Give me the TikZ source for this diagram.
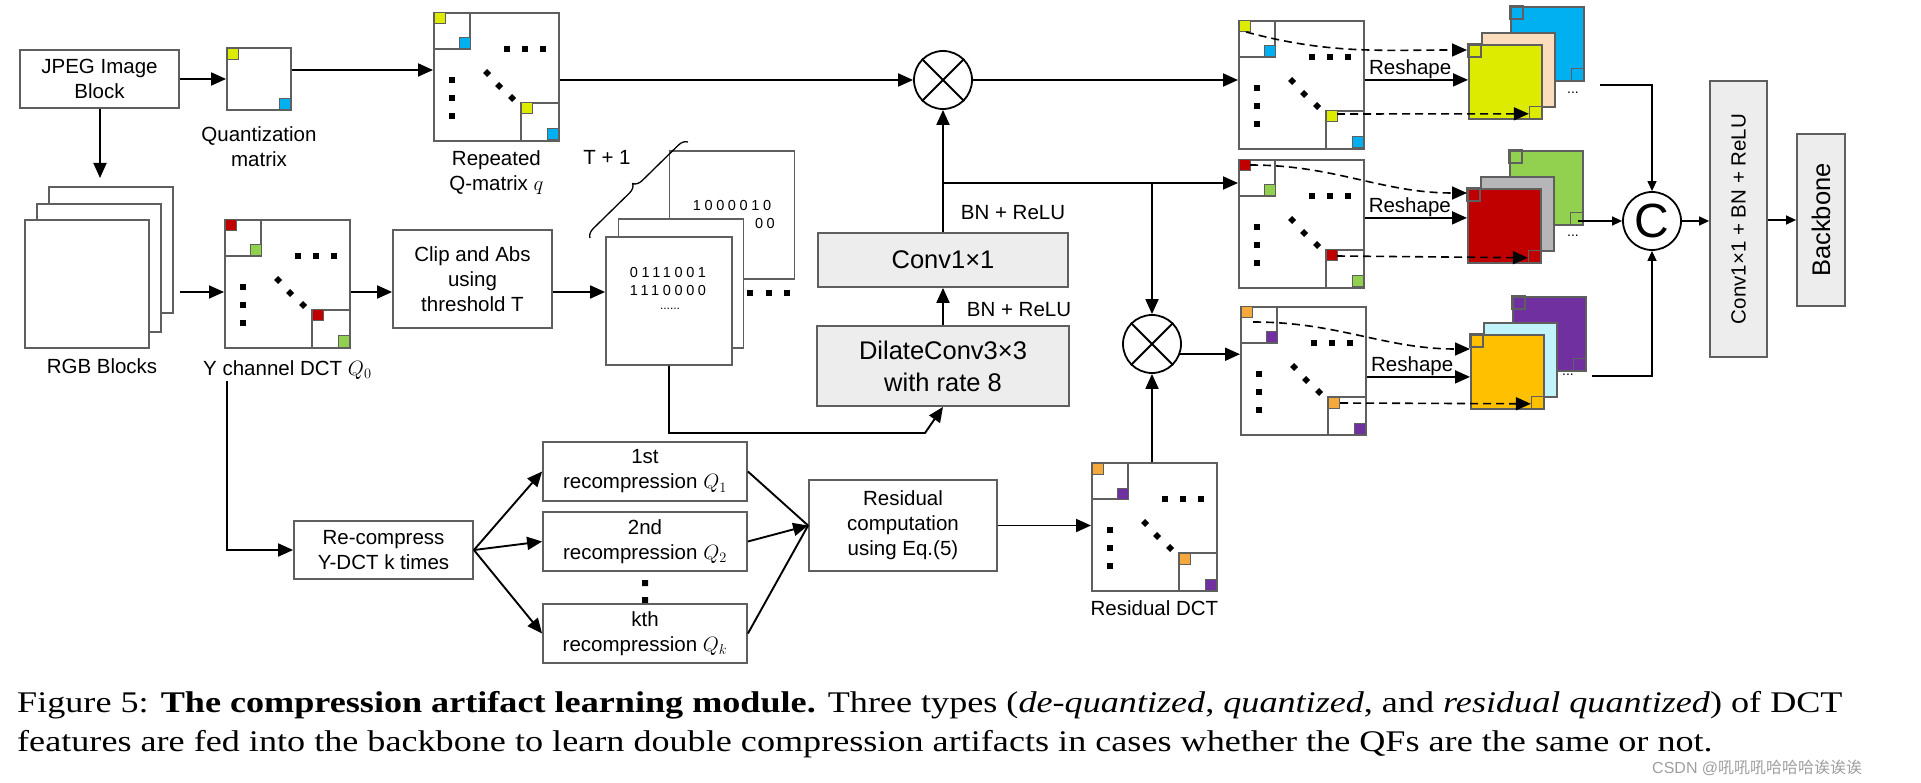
\documentclass[tikz,border=0pt]{standalone}
\usepackage{fontspec}
\setmainfont[FakeStretch=1.205]{Liberation Serif}
\newfontfamily\arial{Liberation Sans}
\newfontfamily\bitsfont[LetterSpace=25]{Liberation Sans}
\newfontfamily\cjk{Noto Sans CJK SC}
\usepackage{xcolor}
\usepackage{graphicx}
\usepackage{tikz}
\usetikzlibrary{arrows.meta, positioning, decorations.pathreplacing}
\definecolor{linegray}{RGB}{95,95,95}
\definecolor{boxgray}{RGB}{237,237,237}
\definecolor{qyellow}{RGB}{220,235,0}
\definecolor{qblue}{RGB}{0,176,240}
\definecolor{qpeach}{RGB}{251,220,188}
\definecolor{yred}{RGB}{192,0,0}
\definecolor{ygreen}{RGB}{146,208,80}
\definecolor{ygray}{RGB}{182,182,184}
\definecolor{rorange}{RGB}{245,168,60}
\definecolor{rpurple}{RGB}{112,48,160}
\definecolor{rcyan}{RGB}{192,244,250}
\definecolor{rgold}{RGB}{255,192,0}
\newcommand{\lbl}{\arial\fontsize{20.5}{25}\selectfont}
\newcommand{\biglbl}{\arial\fontsize{25.5}{32}\selectfont}
\tikzset{
  box/.style={rectangle, draw=linegray, line width=1.8pt, fill=white, align=center, font=\lbl, inner sep=0pt},
  graybox/.style={box, fill=boxgray, font=\biglbl},
  sheet/.style={box, minimum width=125pt, minimum height=128pt},
  fsheet/.style={box, minimum width=73pt, minimum height=74pt},
  txt/.style={font=\lbl, align=center, inner sep=0pt},
  bits/.style={font=\bitsfont\fontsize{14.5}{17}\selectfont, inner sep=0pt},
  mult/.style={circle, draw, line width=1.8pt, minimum size=58pt, inner sep=0pt},
  arrow/.style={-{Stealth[inset=0pt, length=15pt, width=13pt]}, line width=1.9pt},
  smallarrow/.style={-{Stealth[inset=0pt, length=10pt, width=9pt]}, line width=1.4pt},
  dasharrow/.style={arrow, line width=1.6pt, dash pattern=on 8pt off 5pt},
}
\newcommand{\dctmat}[5]{%
  \node[sheet, anchor=north west] (#1) at (#2,#3) {};
  \begin{scope}[shift={(#2,#3)}]
    \draw[linegray, line width=1.5pt] (0,37) -| (37,0) (88,128) |- (125,91);
    \draw[linegray, line width=1pt, fill=#4] (1,1) rectangle (12,12) (88,91) rectangle (99,102);
    \draw[linegray, line width=1pt, fill=#5] (26,26) rectangle (37,37) (114,117) rectangle (125,128);
    \foreach \dx in {74,92,110} \fill (\dx-3,34) rectangle +(6,6);
    \foreach \dy in {68,86,104} \fill (16,\dy-3) rectangle +(6,6);
    \foreach \px/\py in {54/61,66/74,79/86} \fill (\px-4,\py) -- (\px,\py-4) -- (\px+4,\py) -- (\px,\py+4) -- cycle;
  \end{scope}
}
\newcommand{\featstack}[6]{%
  \node[fsheet, fill=#4, anchor=north west] (#1b) at (#2+42,#3-38) {};
  \draw[linegray, line width=1.3pt] (#1b.north west) rectangle +(13,13) (#1b.south east) rectangle +(-13,-13);
  \node[fsheet, fill=#5, anchor=north west] (#1m) at (#2+13,#3-12) {};
  \node[fsheet, fill=#6, anchor=north west] (#1) at (#2,#3) {};
  \draw[linegray, line width=1.3pt] (#1.north west) rectangle +(13,13) (#1.south east) rectangle +(-13,-13);
}

\begin{document}
\begin{tikzpicture}[x=1pt, y=-1pt]
    \useasboundingbox (0,0) rectangle (1921,783);
    \node[box, minimum width=159pt, minimum height=58pt] (jpeg) at (99.5,79) {JPEG Image\\Block};
    \node[box, minimum width=64pt, minimum height=62pt] (quant) at (259,79) {};
    \draw[linegray, line width=1pt, fill=qyellow] ([shift={(1,1)}]quant.north west) rectangle +(11,11);
    \draw[linegray, line width=1pt, fill=qblue] ([shift={(-1,-1)}]quant.south east) rectangle +(-11,-11);
    \node[txt, below=16pt of quant] (quantlab) {Quantization\\matrix};
    \dctmat{repq}{433}{12}{qyellow}{qblue}
    \node[txt, below=9pt of repq] (repqlab) {Repeated\\Q-matrix $q$};

    \node[box, minimum width=124pt, minimum height=126pt] (rgbb) at (111,250) {};
    \node[box, minimum width=124pt, minimum height=128pt] (rgbm) at (99,268) {};
    \node[box, minimum width=124pt, minimum height=128pt] (rgbf) at (87,284) {};
    \node[txt, anchor=north] (rgblab) at (102,358) {RGB Blocks};
    \dctmat{ydct}{224}{219}{yred}{ygreen}
    \node[txt, below=12pt of ydct] (ydctlab) {Y channel DCT $Q_0$};
    \node[box, minimum width=159pt, minimum height=98pt] (clip) at (472.5,279) {Clip and Abs\\using\\threshold T};

    \node[box, minimum width=125pt, minimum height=128pt] (binb) at (732,215) {};
    \node[bits] (bitsa) at (732,206) {1000010};
    \node[box, minimum width=125pt, minimum height=129pt] (binm) at (681,283.5) {};
    \node[bits, anchor=east] (bitsb) at (775,224) {00};
    \node[box, minimum width=126pt, minimum height=128pt] (binf) at (669,301) {};
    \node[bits] (bitsc) at (668,273) {0111001};
    \node[bits] (bitsd) at (668,291) {1110000};
    \node[font=\arial\fontsize{12}{12}\selectfont, inner sep=0pt] (bitse) at (670,309) {......};
    \foreach \dx in {750,769,787} \fill (\dx-3,290) rectangle +(6,6);
    \coordinate (brlow) at (590,238);
    \coordinate (brhigh) at (688,142);
    \draw[decorate, decoration={brace, amplitude=9pt}, line width=1.3pt] (brlow) -- (brhigh);
    \node[txt] (tplus) at (607,157) {T + 1};

    \node[mult] (mulq) at (943,80) {};
    \draw[line width=1.8pt] (mulq.north west) -- (mulq.south east) (mulq.north east) -- (mulq.south west);
    \node[graybox, minimum width=250pt, minimum height=54pt] (conv) at (943,260) {Conv1×1};
    \node[graybox, minimum width=252pt, minimum height=80pt] (dilate) at (943,366) {DilateConv3×3\\with rate 8};
    \node[txt] (bnone) at (1013,213) {BN + ReLU};
    \node[txt] (bntwo) at (1019,310) {BN + ReLU};
    \node[mult] (mulr) at (1152,344) {};
    \draw[line width=1.8pt] (mulr.north west) -- (mulr.south east) (mulr.north east) -- (mulr.south west);

    \node[box, minimum width=179pt, minimum height=58pt] (recomp) at (383.5,550) {Re-compress\\Y-DCT k times};
    \node[box, minimum width=204pt, minimum height=59pt] (recone) at (645,471.5) {1st\\recompression $Q_1$};
    \node[box, minimum width=204pt, minimum height=59pt] (rectwo) at (645,541.5) {2nd\\recompression $Q_2$};
    \node[box, minimum width=204pt, minimum height=59pt] (reck) at (645,633.5) {kth\\recompression $Q_k$};
    \fill (642,580) rectangle +(6,6) (642,597) rectangle +(6,6);
    \node[box, minimum width=188pt, minimum height=91pt] (resid) at (903,525.5) {Residual\\computation\\using Eq.(5)};
    \dctmat{rdct}{1091}{462}{rorange}{rpurple}
    \node[txt, below=9pt of rdct] (rdctlab) {Residual DCT};

    \dctmat{matq}{1238}{20}{qyellow}{qblue}
    \dctmat{maty}{1238}{159}{yred}{ygreen}
    \dctmat{matr}{1240}{306}{rorange}{rpurple}
    \node[font=\arial\fontsize{14}{14}\selectfont, inner sep=0pt] (dotsqa) at (1565,78) {...};
    \node[font=\arial\fontsize{14}{14}\selectfont, inner sep=0pt] (dotsya) at (1565,218) {...};
    \featstack{stq}{1468}{44}{qblue}{qpeach}{qyellow}
    \featstack{sty}{1467}{188}{ygreen}{ygray}{yred}
    \featstack{str}{1470}{334}{rpurple}{rcyan}{rgold}
    \node[font=\arial\fontsize{14}{14}\selectfont, inner sep=0pt] (dotsqb) at (1573,93) {...};
    \node[font=\arial\fontsize{14}{14}\selectfont, inner sep=0pt] (dotsyb) at (1573,236) {...};
    \node[font=\arial\fontsize{14}{14}\selectfont, inner sep=0pt] (dotsrb) at (1568,375) {...};
    \node[mult, font=\arial\fontsize{48}{48}\selectfont] (cat) at (1652,221) {C};
    \node[graybox, font=\lbl, minimum width=57pt, minimum height=276pt] (convbn) at (1738.5,219) {\rotatebox{90}{Conv1×1 + BN + ReLU}};
    \node[graybox, minimum width=48pt, minimum height=172pt] (backbone) at (1821,220) {\rotatebox{90}{Backbone}};

    \draw[arrow] (jpeg) -- (quant);
    \coordinate (qout) at ([yshift=9pt]quant.east);
    \draw[arrow] (qout) -- (qout -| repq.west);
    \draw[arrow] (repq.east |- mulq) -- (mulq.west);
    \draw[arrow] (mulq.east) -- (mulq.east -| matq.west);
    \coordinate (rgbin) at (100,178);
    \draw[arrow] (jpeg.south -| rgbin) -- (rgbin);
    \coordinate (rgbout) at (180,292);
    \draw[arrow] (rgbout) -- (rgbout -| ydct.west);
    \draw[arrow] (ydct.east |- rgbout) -- (clip.west |- rgbout);
    \draw[arrow] (clip.east |- rgbout) -- (binf.west |- rgbout);
    \coordinate (bend) at (925,433);
    \draw[arrow] (binf.south) |- (bend) -- (dilate.south);
    \draw[arrow] (dilate) -- (conv);
    \draw[arrow] (conv) -- (mulq);
    \coordinate (branch) at (943,183);
    \draw[arrow] (branch) -- (branch -| maty.west);
    \draw[arrow] (branch -| mulr) -- (mulr.north);
    \coordinate (ydown) at (227,381);
    \draw[arrow] (ydown) |- (recomp.west);
    \draw[arrow] (recomp.east) -- (recone.west);
    \draw[arrow] (recomp.east) -- (rectwo.west);
    \draw[arrow] (recomp.east) -- (reck.west);
    \draw[line width=1.9pt] (recone.east) -- (resid.west) (reck.east) -- (resid.west);
    \draw[arrow] (rectwo.east) -- (resid.west);
    \draw[arrow] (resid.east) -- (resid.east -| rdct.west);
    \draw[arrow] (mulr |- rdct.north) -- (mulr.south);
    \draw[arrow] (mulr.-20) -- (mulr.-20 -| matr.west);

    \path (stq.west) ++(0,-2) coordinate (shq);
    \path (sty.west) ++(0,-8) coordinate (shy);
    \path (str.west) ++(0,5) coordinate (shr);
    \draw[arrow] (shq -| matq.east) -- node[txt, above=0pt, pos=0.44] {Reshape} (shq);
    \draw[arrow] (shy -| maty.east) -- node[txt, above=0pt, pos=0.44] {Reshape} (shy);
    \draw[arrow] (shr -| matr.east) -- node[txt, above=0pt, pos=0.44] {Reshape} (shr);
    \draw[dasharrow] ([shift={(8,12)}]matq.north west) to[out=-15, in=180] ([shift={(-1,6)}]stq.north west);
    \draw[dasharrow] ([shift={(12,6)}]maty.north west) to[out=0, in=180] ([shift={(0,5)}]sty.north west);
    \draw[dasharrow] ([shift={(13,16)}]matr.north west) to[out=0, in=180] ([shift={(0,15)}]str.north west);
    \draw[dasharrow] ([shift={(99,94)}]matq.north west) -- ([shift={(-14,-6)}]stq.south east);
    \draw[dasharrow] ([shift={(99,97)}]maty.north west) -- ([shift={(-14,-6)}]sty.south east);
    \draw[dasharrow] ([shift={(100,97)}]matr.north west) -- ([shift={(-14,-6)}]str.south east);

    \coordinate (qcat) at (1600,85);
    \coordinate (ycat) at (1578,221);
    \coordinate (rcat) at (1592,376);
    \draw[smallarrow] (qcat) -| (cat.north);
    \draw[smallarrow] (ycat) -- (cat.west);
    \draw[smallarrow] (rcat) -| (cat.south);
    \draw[smallarrow] (cat.east) -- (cat.east -| convbn.west);
    \draw[smallarrow] (convbn.east |- backbone) -- (backbone.west);

    \node[anchor=base west, font=\fontsize{30}{39}\selectfont, inner sep=0pt] (capone) at (17,712) {Figure 5: \textbf{The compression artifact learning module.} Three types (\textit{de-quantized}, \textit{quantized}, and \textit{residual quantized}) of DCT};
    \node[anchor=base west, font=\fontsize{30}{39}\selectfont, inner sep=0pt] (captwo) at (17,751) {features are fed into the backbone to learn double compression artifacts in cases whether the QFs are the same or not.};
    \node[anchor=west, text=gray!75, font=\arial\fontsize{16}{16}\selectfont, inner sep=0pt] (mark) at (1652,768) {CSDN @{\cjk 吼吼吼哈哈哈诶诶诶}};
  \end{tikzpicture}
\end{document}
